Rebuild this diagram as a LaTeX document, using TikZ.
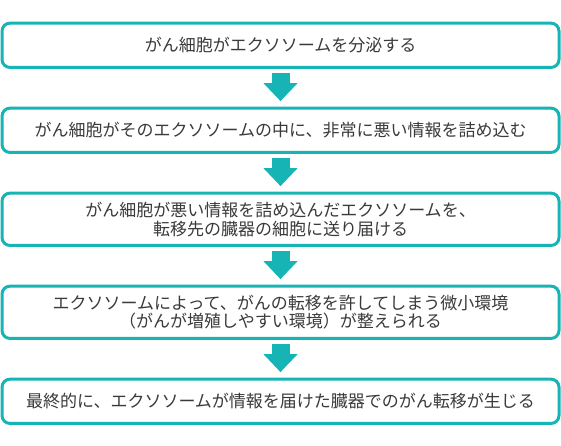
\documentclass[tikz,border=0pt]{standalone}
\usepackage{fontspec}
\newfontfamily\jpfont{Noto Sans CJK JP}
\usetikzlibrary{positioning,arrows.meta}
\definecolor{flowteal}{RGB}{22,180,181}
\definecolor{flowtext}{RGB}{58,58,58}
\begin{document}
\begin{tikzpicture}[
        x=1pt, y=1pt,
        node distance=37.7pt,
        stepbox/.style={draw=flowteal, line width=3pt, rounded corners=8pt, fill=white,
            minimum width=557pt, minimum height=44.3pt, inner sep=2pt, align=center,
            text=flowtext, font=\jpfont\fontsize{17}{18.5}\selectfont},
        tallbox/.style={stepbox, minimum height=52.3pt},
        flow/.style={flowteal, line width=18pt, -{Triangle[width=33pt, length=18pt]},
            shorten <=4pt, shorten >=5.5pt}
    ]
        \useasboundingbox (0,0) rectangle (561,-446);

        % Các bước
        \node[stepbox] (secrete) at (280.5,-45.3) {がん細胞がエクソソームを分泌する};
        \node[stepbox, below=of secrete] (pack) {がん細胞がそのエクソソームの中に、非常に悪い情報を詰め込む};
        \node[tallbox, below=of pack] (deliver) {がん細胞が悪い情報を詰め込んだエクソソームを、\\転移先の臓器の細胞に送り届ける};
        \node[tallbox, below=of deliver] (niche) {エクソソームによって、がんの転移を許してしまう微小環境\\（がんが増殖しやすい環境）が整えられる};
        \node[stepbox, below=of niche] (metastasis) {最終的に、エクソソームが情報を届けた臓器でのがん転移が生じる};

        % Mũi tên giữa các bước
        \draw[flow] (secrete) -- (pack);
        \draw[flow] (pack) -- (deliver);
        \draw[flow] (deliver) -- (niche);
        \draw[flow] (niche) -- (metastasis);
\end{tikzpicture}
\end{document}
